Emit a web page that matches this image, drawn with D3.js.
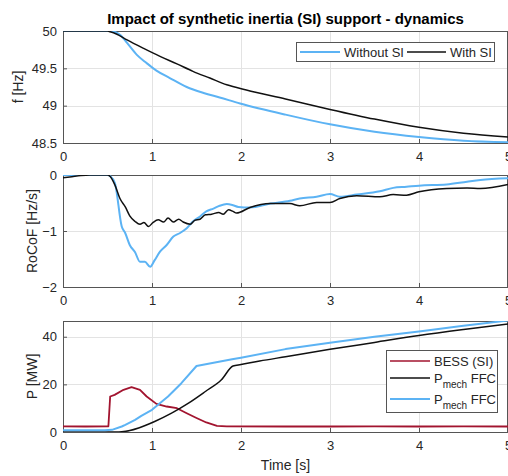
<!DOCTYPE html>
<html>
<head>
<meta charset="utf-8">
<script src="https://cdn.jsdelivr.net/npm/d3@7"></script>
<style>
  body { margin: 0; background: #fff; }
  svg { display: block; font-family: "Liberation Sans", Arial, sans-serif; }
  .grid line { stroke: #e3e3e3; }
  .tick text { fill: #262626; font-size: 13px; font-family: "Liberation Sans", Arial, sans-serif; }
</style>
</head>
<body>
<svg id="chart" width="508" height="476"></svg>
<script>
// ---- data ----
const xTicks = [0, 1, 2, 3, 4, 5];

// frequency [Hz]
const tFreqNoSI = [0, 0.5, 0.53, 0.64, 0.72, 0.83, 0.94, 1.05, 1.2, 1.39, 1.58, 1.76, 1.99, 2.5, 3, 3.5, 4, 4.5, 5];
const freqNoSI  = [50, 50, 50, 49.95, 49.84, 49.68, 49.57, 49.47, 49.37, 49.25, 49.17, 49.11, 49.03, 48.88, 48.75, 48.65, 48.58, 48.53, 48.51];
const tFreqSI   = [0, 0.5, 0.53, 0.6, 0.72, 0.9, 1.09, 1.28, 1.46, 1.65, 1.84, 2.06, 2.5, 3, 3.5, 4, 4.5, 5];
const freqSI    = [50, 50, 49.99, 49.96, 49.88, 49.77, 49.66, 49.56, 49.46, 49.37, 49.28, 49.21, 49.09, 48.95, 48.82, 48.71, 48.63, 48.58];
const freqTicks = [48.5, 49, 49.5, 50];

// RoCoF [Hz/s]
const tRocofNoSI = [0, 0.5, 0.53, 0.584, 0.66, 0.70, 0.75, 0.81, 0.865, 0.92, 0.98, 1.03, 1.09, 1.165, 1.24, 1.31, 1.39, 1.46, 1.54, 1.61, 1.69, 1.76, 1.84, 1.91, 1.97, 2.10, 2.33, 2.55, 2.66, 2.85, 3.0, 3.11, 3.30, 3.56, 3.71, 3.86, 4.0, 4.31, 4.54, 4.69, 5.0];
const rocofNoSI  = [0, 0, -0.02, -0.15, -0.92, -1.04, -1.25, -1.38, -1.55, -1.55, -1.64, -1.52, -1.37, -1.25, -1.10, -1.04, -0.95, -0.83, -0.74, -0.65, -0.60, -0.55, -0.52, -0.54, -0.57, -0.58, -0.51, -0.46, -0.42, -0.39, -0.34, -0.39, -0.35, -0.29, -0.23, -0.21, -0.19, -0.17, -0.12, -0.09, -0.06];
const tRocofSI = [0, 0.1, 0.2, 0.3, 0.5, 0.52, 0.584, 0.64, 0.70, 0.75, 0.81, 0.865, 0.91, 0.96, 1.01, 1.07, 1.13, 1.18, 1.24, 1.30, 1.35, 1.43, 1.48, 1.54, 1.60, 1.67, 1.75, 1.80, 1.86, 1.91, 1.95, 2.10, 2.33, 2.55, 2.66, 2.85, 3.0, 3.11, 3.30, 3.56, 3.71, 3.86, 4.0, 4.31, 4.54, 4.69, 5.0];
const rocofSI  = [-0.05, -0.03, -0.01, 0, 0, -0.01, -0.18, -0.42, -0.57, -0.73, -0.83, -0.88, -0.85, -0.92, -0.85, -0.80, -0.84, -0.77, -0.84, -0.79, -0.84, -0.88, -0.81, -0.79, -0.71, -0.70, -0.67, -0.70, -0.62, -0.65, -0.68, -0.58, -0.51, -0.51, -0.55, -0.49, -0.49, -0.42, -0.37, -0.39, -0.35, -0.36, -0.30, -0.24, -0.23, -0.24, -0.17];
const rocofTicks = [-2, -1, 0];

// power [MW]
const tBess = [0, 0.25, 0.5, 0.51, 0.53, 0.58, 0.68, 0.77, 0.865, 0.94, 1.05, 1.165, 1.28, 1.39, 1.50, 1.61, 1.73, 1.84, 2.5, 3, 3.5, 4, 4.5, 5];
const pBess = [2.4, 2.3, 2.4, 2.4, 14.9, 15.6, 17.7, 18.8, 17.7, 14.9, 11.8, 10.7, 10.0, 7.9, 5.9, 4.0, 2.6, 2.4, 2.3, 2.3, 2.4, 2.3, 2.4, 2.3];
const tMechSI = [0, 0.6, 0.66, 0.75, 0.85, 1.03, 1.22, 1.41, 1.60, 1.78, 1.91, 2.0, 2.21, 2.5, 3, 3.5, 4, 4.5, 5];
const pMechSI = [0, 0, 0.1, 0.6, 1.7, 4.4, 7.9, 12.1, 17.0, 21.9, 27.7, 28.3, 29.8, 31.6, 34.7, 37.6, 40.5, 43.0, 45.3];
const tMechNoSI = [0, 0.47, 0.55, 0.66, 0.70, 0.81, 0.88, 1.0, 1.18, 1.33, 1.5, 1.9, 2.0, 2.5, 3, 3.5, 4, 4.5, 5];
const pMechNoSI = [0.7, 0.7, 0.9, 2.3, 3.0, 5.1, 6.8, 9.3, 14.9, 20.5, 27.7, 30.5, 31.2, 34.8, 37.5, 40.0, 42.2, 44.6, 46.8];
const powerTicks = [0, 20, 40];

const blue = '#5cb3f4';
const black = '#111111';
const red = '#a2142f';

const svg = d3.select('#chart');
const left = 63, right = 508;

const x = d3.scaleLinear().domain([0, 5]).range([left, right]);

// one axes box with grid, ticks and labels
function panel(top, bottom, domain, yTicks, yLabel, yLabelX) {
    const y = d3.scaleLinear().domain(domain).range([bottom, top]);
    const g = svg.append('g');

    g.append('g').attr('class', 'grid')
        .selectAll('line.v').data(xTicks.slice(1, -1)).join('line')
        .attr('x1', d => Math.round(x(d)) + 0.5).attr('x2', d => Math.round(x(d)) + 0.5)
        .attr('y1', top).attr('y2', bottom);
    g.select('.grid')
        .selectAll('line.h').data(yTicks.filter(d => d !== domain[0] && d !== domain[1])).join('line')
        .attr('x1', left).attr('x2', right)
        .attr('y1', d => Math.round(y(d)) + 0.5).attr('y2', d => Math.round(y(d)) + 0.5);

    const xAxis = d3.axisBottom(x).tickValues(xTicks).tickFormat(d3.format('')).tickSize(-4).tickPadding(9);
    g.append('g').attr('transform', `translate(0,${bottom})`).call(xAxis)
        .attr('font-family', null)
        .call(a => a.select('.domain').remove())
        .call(a => a.selectAll('.tick line').attr('stroke', '#555'));

    const yAxis = d3.axisLeft(y).tickValues(yTicks).tickFormat(d3.format('')).tickSize(-4).tickPadding(6);
    g.append('g').attr('transform', `translate(${left},0)`).call(yAxis)
        .attr('font-family', null)
        .call(a => a.select('.domain').remove())
        .call(a => a.selectAll('.tick line').attr('stroke', '#555'));

    g.append('rect')
        .attr('x', left + 0.5).attr('y', top + 0.5)
        .attr('width', right - left - 1).attr('height', bottom - top)
        .attr('fill', 'none').attr('stroke', '#555');

    g.append('text')
        .attr('transform', `translate(${yLabelX},${(top + bottom) / 2}) rotate(-90)`)
        .attr('text-anchor', 'middle').attr('font-size', 14).attr('fill', '#262626')
        .text(yLabel);

    const clipId = 'clip' + top;
    svg.append('clipPath').attr('id', clipId)
        .append('rect').attr('x', left).attr('y', top).attr('width', right - left).attr('height', bottom - top);
    const lines = svg.append('g').attr('clip-path', `url(#${clipId})`);
    return { y, lines };
}

function drawLine(p, ts, vs, color, width, curve) {
    const line = d3.line()
        .x(d => x(d[0]))
        .y(d => p.y(d[1]))
        .curve(curve);
    p.lines.append('path')
        .datum(ts.map((t, i) => [t, vs[i]]))
        .attr('d', line)
        .attr('fill', 'none')
        .attr('stroke', color)
        .attr('stroke-width', width)
        .attr('stroke-linejoin', 'round');
}

// ---- panel 1: frequency ----
const p1 = panel(31, 143, [48.5, 50], freqTicks, 'f [Hz]', 23);
drawLine(p1, tFreqNoSI, freqNoSI, blue, 2, d3.curveMonotoneX);
drawLine(p1, tFreqSI, freqSI, black, 1.5, d3.curveMonotoneX);

// ---- panel 2: RoCoF ----
const p2 = panel(175, 287, [-2, 0], rocofTicks, 'RoCoF [Hz/s]', 37);
drawLine(p2, tRocofNoSI, rocofNoSI, blue, 2, d3.curveMonotoneX);
drawLine(p2, tRocofSI, rocofSI, black, 1.5, d3.curveMonotoneX);

// ---- panel 3: power ----
const p3 = panel(321, 432, [0, 46.6], powerTicks, 'P [MW]', 37);
drawLine(p3, tBess, pBess, red, 1.8, d3.curveLinear);
drawLine(p3, tMechSI, pMechSI, black, 1.5, d3.curveMonotoneX);
drawLine(p3, tMechNoSI, pMechNoSI, blue, 2, d3.curveLinear);

// title and x label
svg.append('text').attr('x', (left + right) / 2).attr('y', 24)
    .attr('text-anchor', 'middle').attr('font-size', 15).attr('font-weight', 'bold').attr('fill', '#000')
    .text('Impact of synthetic inertia (SI) support - dynamics');
svg.append('text').attr('x', (left + right) / 2).attr('y', 470)
    .attr('text-anchor', 'middle').attr('font-size', 14).attr('fill', '#262626')
    .text('Time [s]');

// legend 1
const lg1 = svg.append('g');
lg1.append('rect').attr('x', 296.5).attr('y', 42.5).attr('width', 198).attr('height', 19)
    .attr('fill', '#fff').attr('stroke', '#555');
[[300, 340, 344, blue, 'Without SI'], [407, 446, 450, black, 'With SI']].forEach(([a, b, tx, c, s]) => {
    lg1.append('line').attr('x1', a).attr('x2', b).attr('y1', 52).attr('y2', 52)
        .attr('stroke', c).attr('stroke-width', c === blue ? 2 : 1.5);
    lg1.append('text').attr('x', tx).attr('y', 56.5).attr('font-size', 13).attr('fill', '#262626').text(s);
});

// legend 3
const lg3 = svg.append('g');
lg3.append('rect').attr('x', 386.5).attr('y', 350.5).attr('width', 111).attr('height', 62)
    .attr('fill', '#fff').attr('stroke', '#555');
const rows = [[361, red, null], [378, black, 'mech'], [399, blue, 'mech']];
rows.forEach(([ry, c, sub], i) => {
    lg3.append('line').attr('x1', 390).attr('x2', 430).attr('y1', ry).attr('y2', ry)
        .attr('stroke', c).attr('stroke-width', c === blue ? 2 : 1.5);
    const t = lg3.append('text').attr('x', 434).attr('y', ry + 4.5).attr('font-size', 13).attr('fill', '#262626');
    if (!sub) {
        t.text('BESS (SI)');
    } else {
        t.append('tspan').text('P');
        t.append('tspan').attr('dy', 5).attr('font-size', 10).text(sub);
        t.append('tspan').attr('dy', -5).text(' FFC');
    }
});
</script>
</body>
</html>
